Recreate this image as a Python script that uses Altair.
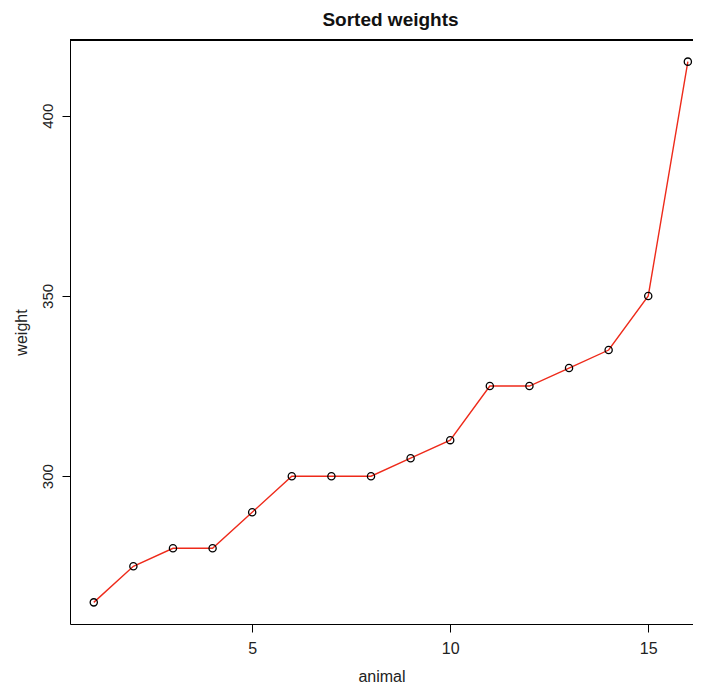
import altair as alt
import pandas as pd

animal = list(range(1, 17))
weight = [265, 275, 280, 280, 290, 300, 300, 300, 305, 310, 325, 325, 330, 335, 350, 415]
x_ticks = [5, 10, 15]
y_ticks = [300, 350, 400]

df = pd.DataFrame({"animal": animal, "weight": weight})

W = 623
H = 584
FONT = "Liberation Sans"

x = alt.X("animal:Q", title="animal",
          scale=alt.Scale(domain=[0.4, 16.13], nice=False, zero=False),
          axis=alt.Axis(values=x_ticks, grid=False, tickSize=8, labelPadding=8,
                        labelFontSize=16, titleFontSize=16, titleFontWeight="normal",
                        titlePadding=12, domainColor="black", tickColor="black",
                        labelColor="#222", titleColor="#222", labelFont=FONT, titleFont=FONT))
y = alt.Y("weight:Q", title="weight",
          scale=alt.Scale(domain=[259, 421], nice=False, zero=False),
          axis=alt.Axis(values=y_ticks, grid=False, tickSize=8, labelPadding=7,
                        labelAngle=-90, labelAlign="center", labelBaseline="bottom",
                        labelFontSize=15, titleFontSize=16, titleFontWeight="normal",
                        titlePadding=11, domainColor="black", tickColor="black",
                        labelColor="#222", titleColor="#222", labelFont=FONT, titleFont=FONT))

base = alt.Chart(df)
line = base.mark_line(color="#ee2a1a", strokeWidth=1.4).encode(x=x, y=y)
pts = base.mark_point(shape="circle", filled=False, color="black", size=52, strokeWidth=1.3,
                      opacity=1).encode(x=x, y=y)
top = alt.Chart(df).mark_rule(color="black", strokeWidth=1).encode(
    x=alt.value(0), x2=alt.value(W + 10), y=alt.value(0))

chart = alt.layer(line, pts, top).properties(
    width=W, height=H,
    autosize=alt.AutoSizeParams(type="none"),
    padding={"left": 62, "top": 32, "right": 0, "bottom": 60},
    title=alt.TitleParams("Sorted weights", font=FONT, fontSize=19, fontWeight="bold",
                          color="#111", anchor="middle", dx=9, offset=10),
).configure_view(stroke=None)

chart.save("out.html", embed_options={"renderer": "svg", "actions": False})
